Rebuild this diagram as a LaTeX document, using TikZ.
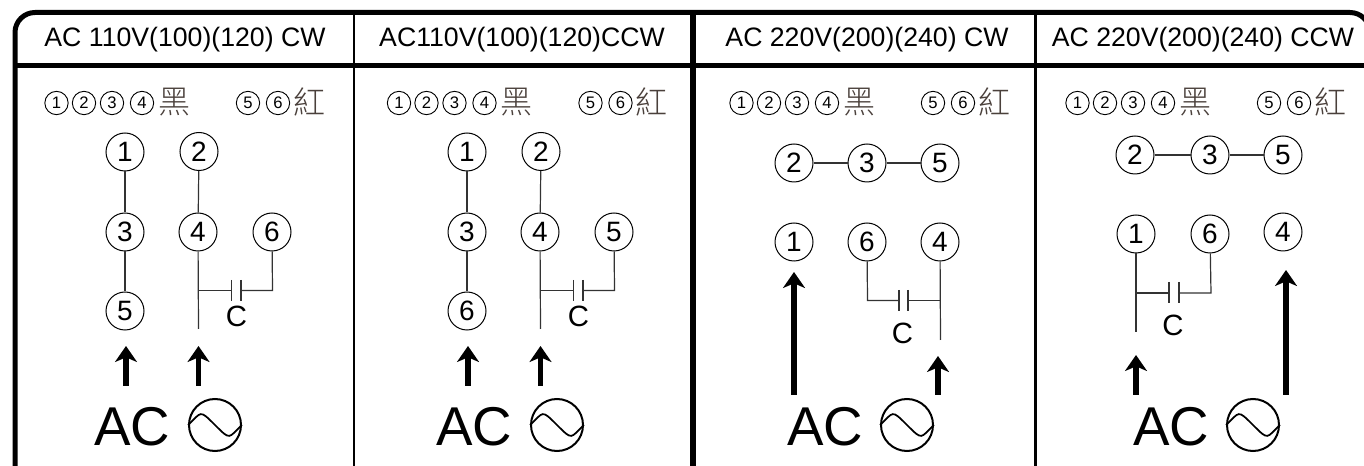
\documentclass[tikz,border=0pt]{standalone}
\usepackage{fontspec}
\setmainfont{Liberation Sans}
\newfontfamily\cjk{Noto Sans CJK TC Light}
\usetikzlibrary{arrows.meta}
\definecolor{legendgray}{HTML}{4A403B}
\tikzset{
  frameline/.style={line width=3.75pt},
  thinframe/.style={line width=1.6pt},
  wire/.style={line width=0.9pt,black!80},
  term/.style={draw,circle,line width=0.75pt,minimum size=28.5pt,inner sep=0pt,font=\fontsize{21}{21}\selectfont},
  smallterm/.style={draw,circle,line width=0.7pt,minimum size=17.5pt,inner sep=0pt,font=\fontsize{12.5}{12.5}\selectfont},
  headtext/.style={font=\fontsize{20}{20}\selectfont},
  captext/.style={font=\fontsize{22}{22}\selectfont},
  actext/.style={font=\fontsize{41}{41}\selectfont},
  cjktext/.style={font=\cjk\fontsize{24}{24}\selectfont,text=legendgray},
  feed/.style={line width=3.9pt,-{Stealth[length=12pt,width=16.5pt,inset=3.5pt]}},
}
% legend row: prefix, shift
\newcommand{\legendrow}[2]{
\node[smallterm] (#1l1) at (56.5+#2,103) {1};
\node[smallterm] (#1l2) at (84+#2,103) {2};
\node[smallterm] (#1l3) at (112+#2,103) {3};
\node[smallterm] (#1l4) at (142+#2,103) {4};
\node[cjktext] (#1black) at (174+#2,102) {黑};
\node[smallterm] (#1l5) at (248+#2,103) {5};
\node[smallterm] (#1l6) at (278+#2,103) {6};
\node[cjktext] (#1red) at (309+#2,102) {紅};
}
% AC label and source: prefix, x of label, x of source
\newcommand{\acsource}[3]{
\node[actext] (#1ac) at (#2,427) {AC};
\node[draw,circle,line width=1.5pt,minimum size=39pt,inner sep=0pt] (#1src) at (#3,425) {};
\draw[line width=1.3pt] (#1src.west) .. controls +(14,-13) and +(-16,-16) .. (#1src.center) .. controls +(16,16) and +(-14,13) .. (#1src.east);
}

\begin{document}
\begin{tikzpicture}[x=0.75pt,y=-0.75pt]
\clip (0,0) rectangle (1364,466);

%frame
\coordinate (fl) at (15,480);
\coordinate (ftl) at (15,12.5);
\coordinate (ftr) at (1370,12.5);
\coordinate (fr) at (1370,480);
\draw[frameline,rounded corners=15pt] (fl)--(ftl)--(ftr)--(fr);
\coordinate (hl) at (15,65.5);
\coordinate (hr) at (1370,65.5);
\draw[frameline] (hl)--(hr);
\coordinate (v1t) at (354,12);
\coordinate (v1b) at (354,480);
\draw[thinframe] (v1t)--(v1b);
\coordinate (v2t) at (693,12);
\coordinate (v2b) at (693,480);
\draw[line width=4.4pt] (v2t)--(v2b);
\coordinate (v3t) at (1035.5,12);
\coordinate (v3b) at (1035.5,480);
\draw[line width=2pt] (v3t)--(v3b);

%headers
\node[headtext] (h1) at (185,40) {AC 110V(100)(120) CW};
\node[headtext] (h2) at (522,40) {AC110V(100)(120)CCW};
\node[headtext] (h3) at (867,40) {AC 220V(200)(240) CW};
\node[headtext] (h4) at (1203,40) {AC 220V(200)(240) CCW};

\legendrow{a}{0}
\legendrow{b}{342.5}
\legendrow{c}{685}
\legendrow{d}{1021}

%first panel
\node[term] (a1) at (125,152) {1};
\node[term] (a2) at (199,151.5) {2};
\node[term] (a3) at (125,232) {3};
\node[term] (a4) at (198,232) {4};
\node[term] (a6) at (272,232) {6};
\node[term] (a5) at (125,311) {5};
\draw[wire] (a1)--(a3);
\draw[wire] (a3)--(a5);
\draw[wire] (a2)--(a4);
\coordinate (aend) at (198.5,329);
\coordinate (aj) at (198.5,290.5);
\coordinate (ap) at (231.5,290.5);
\coordinate (aq) at (241,290.5);
\coordinate (ar) at (272.5,290.5);
\draw[wire] (a4)--(aend);
\draw[wire] (aj)--(ap);
\draw[wire] (aq)--(ar)--(a6);
\draw[wire] (231.5,280)--(231.5,301);
\draw[wire] (241,280)--(241,301);
\node[captext] (ac) at (236.5,316) {C};
\coordinate (aa1) at (126,386);
\coordinate (aa2) at (126,346);
\coordinate (ab1) at (198.5,386);
\coordinate (ab2) at (198.5,346);
\draw[feed] (aa1)--(aa2);
\draw[feed] (ab1)--(ab2);
\acsource{a}{132}{215}

%second panel
\node[term] (b1) at (467,152) {1};
\node[term] (b2) at (541,151.5) {2};
\node[term] (b3) at (467,232) {3};
\node[term] (b4) at (540,232) {4};
\node[term] (b5) at (614,232) {5};
\node[term] (b6) at (467,311) {6};
\draw[wire] (b1)--(b3);
\draw[wire] (b3)--(b6);
\draw[wire] (b2)--(b4);
\coordinate (bend) at (540.5,329);
\coordinate (bj) at (540.5,290.5);
\coordinate (bp) at (573.5,290.5);
\coordinate (bq) at (583,290.5);
\coordinate (br) at (614.5,290.5);
\draw[wire] (b4)--(bend);
\draw[wire] (bj)--(bp);
\draw[wire] (bq)--(br)--(b5);
\draw[wire] (573.5,280)--(573.5,301);
\draw[wire] (583,280)--(583,301);
\node[captext] (bc) at (578.5,316) {C};
\coordinate (ba1) at (468,386);
\coordinate (ba2) at (468,346);
\coordinate (bb1) at (540.5,386);
\coordinate (bb2) at (540.5,346);
\draw[feed] (ba1)--(ba2);
\draw[feed] (bb1)--(bb2);
\acsource{b}{474}{557}

%third panel
\node[term] (c2) at (794,163) {2};
\node[term] (c3) at (867,163) {3};
\node[term] (c5) at (940,163) {5};
\node[term] (c1) at (794,242) {1};
\node[term] (c6) at (867,242) {6};
\node[term] (c4) at (940,242) {4};
\draw[wire] (c2)--(c3);
\draw[wire] (c3)--(c5);
\coordinate (cend) at (940.5,340);
\coordinate (cj) at (940.5,300.5);
\coordinate (cp) at (899,300.5);
\coordinate (cq) at (908,300.5);
\coordinate (cr) at (867.5,300.5);
\draw[wire] (c4)--(cend);
\draw[wire] (cj)--(cq);
\draw[wire] (cp)--(cr)--(c6);
\draw[wire] (899,290)--(899,311);
\draw[wire] (908,290)--(908,311);
\node[captext] (cc) at (902.5,333) {C};
\coordinate (ca1) at (794,395);
\coordinate (ca2) at (794,272);
\coordinate (cb1) at (938,395);
\coordinate (cb2) at (938,356);
\draw[feed] (ca1)--(ca2);
\draw[feed] (cb1)--(cb2);
\acsource{c}{825}{907}

%fourth panel
\node[term] (d2) at (1135,155) {2};
\node[term] (d3) at (1210,155) {3};
\node[term] (d5) at (1283,155) {5};
\node[term] (d1) at (1136,234) {1};
\node[term] (d6) at (1210,234) {6};
\node[term] (d4) at (1283,232) {4};
\draw[wire] (d2)--(d3);
\draw[wire] (d3)--(d5);
\coordinate (dend) at (1136,332);
\coordinate (dj) at (1136,293);
\coordinate (dp) at (1169,293);
\coordinate (dq) at (1179,293);
\coordinate (dr) at (1211,293);
\draw[wire] (d1)--(dend);
\draw[wire] (dj)--(dp);
\draw[wire] (dq)--(dr)--(d6);
\draw[wire] (1169,282)--(1169,303);
\draw[wire] (1179,282)--(1179,303);
\node[captext] (dc) at (1173,325) {C};
\coordinate (da1) at (1136,395);
\coordinate (da2) at (1136,355);
\coordinate (db1) at (1286,395);
\coordinate (db2) at (1286,270);
\draw[feed] (da1)--(da2);
\draw[feed] (db1)--(db2);
\acsource{d}{1171}{1253}

\end{tikzpicture}
\end{document}
